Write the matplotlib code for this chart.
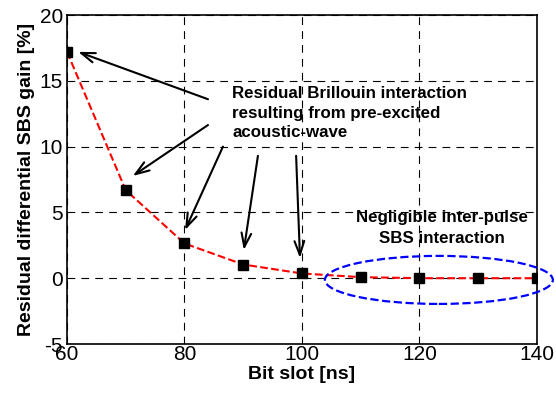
import matplotlib
matplotlib.use("Agg")
import matplotlib.pyplot as plt
from matplotlib.patches import Ellipse

plt.rcParams['font.family'] = ['Liberation Sans', 'DejaVu Sans']
plt.rcParams['axes.unicode_minus'] = False

bit_slot = [60, 70, 80, 90, 100, 110, 120, 130, 140]
sbs_gain = [17.2, 6.69, 2.64, 1.04, 0.36, 0.08, 0.0, 0.0, 0.0]

x_ticks = [60, 80, 100, 120, 140]
y_ticks = [-5, 0, 5, 10, 15, 20]

# arrow tails (text side) and heads (data side)
arrow_tails = [(84.0, 13.6), (84.0, 11.64), (86.55, 10.0), (92.5, 9.3), (99.0, 9.3)]
arrow_heads = [(61.9, 17.2), (71.2, 7.77), (80.1, 3.66), (90.1, 2.14), (99.66, 1.53)]

fig = plt.figure(figsize=(5.56, 3.96), dpi=100)
ax = fig.add_axes([0.1205, 0.1313, 0.8453, 0.8308])

ax.plot(bit_slot, sbs_gain, color='red', linestyle='--', linewidth=1.5,
        marker='s', markersize=6.5, markerfacecolor='black',
        markeredgecolor='black', zorder=3)

ax.set_xlim(60, 140)
ax.set_ylim(-5, 20)
ax.set_xticks(x_ticks)
ax.set_yticks(y_ticks)
ax.tick_params(labelsize=15, direction='in', length=0)
ax.tick_params(axis='x', pad=1)
ax.tick_params(axis='y', pad=3)
ax.grid(True, color='black', linestyle=(0, (7, 5.5)), linewidth=0.8)
for s in ax.spines.values():
    s.set_linewidth(1.2)

ax.set_xlabel('Bit slot [ns]', fontsize=14, fontweight='bold', labelpad=1)
ax.set_ylabel('Residual differential SBS gain [%]', fontsize=14,
              fontweight='bold', labelpad=3)

ax.text(88.1, 12.55, 'Residual Brillouin interaction\nresulting from pre-excited\nacoustic-wave',
        fontsize=12.2, fontweight='bold', ha='left', va='center',
        linespacing=1.38, zorder=5)

for tail, head in zip(arrow_tails, arrow_heads):
    ax.annotate('', xy=head, xytext=tail,
                arrowprops=dict(arrowstyle='->,head_length=1.0,head_width=0.35',
                                color='black', lw=1.5, shrinkA=0, shrinkB=0),
                zorder=4)

ax.text(123.8, 3.81, 'Negligible inter-pulse\nSBS interaction', fontsize=12.2,
        fontweight='bold', ha='center', va='center', linespacing=1.45,
        zorder=5)

ell = Ellipse((123.3, -0.13), 38.8, 3.65, fill=False, edgecolor='blue',
              linestyle='--', linewidth=1.6, clip_on=False, zorder=4)
ax.add_patch(ell)

fig.savefig('out.png', dpi=100)
